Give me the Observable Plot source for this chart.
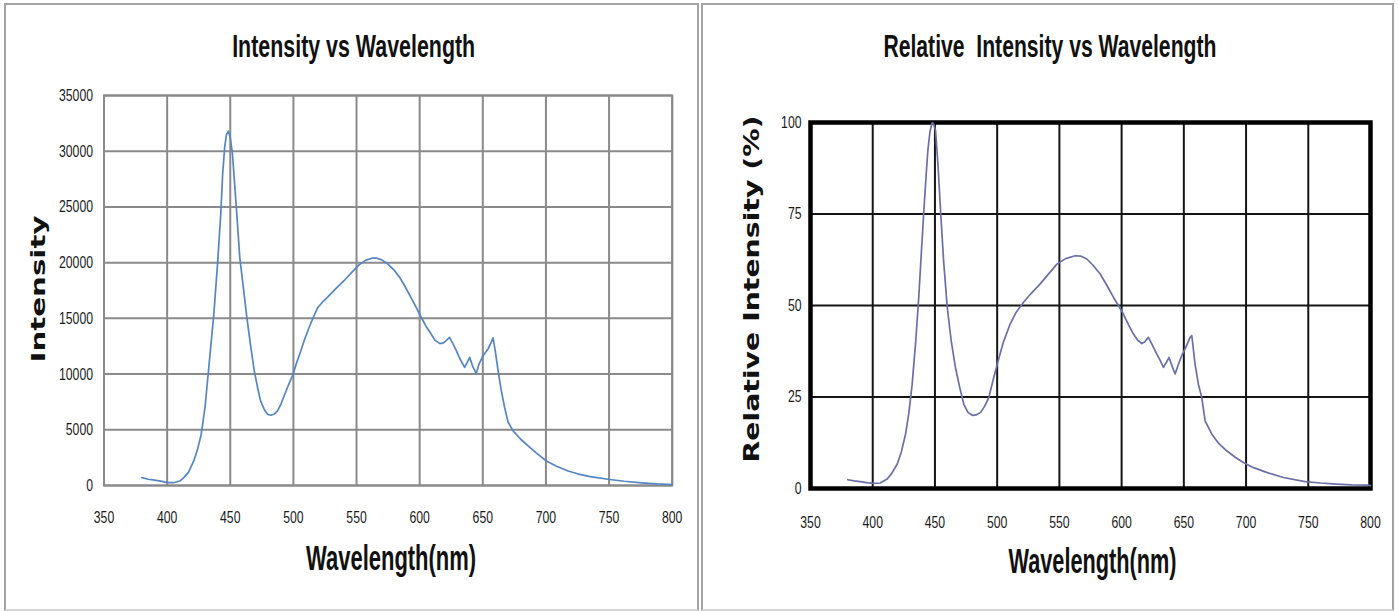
<!DOCTYPE html>
<html>
<head>
<meta charset="utf-8">
<script src="https://cdn.jsdelivr.net/npm/d3@7"></script>
<script src="https://cdn.jsdelivr.net/npm/@observablehq/plot@0.6"></script>
<style>
  html, body { margin: 0; padding: 0; background: #fff; }
  #wrap { position: relative; width: 1399px; height: 611px; overflow: hidden; background: #fff; }
  .panel { position: absolute; box-sizing: border-box; border: 2px solid #a3a3a3; border-bottom-color: #d6d6d6; }
  .title { position: absolute; top: 30px; text-align: center; font-family: "Liberation Sans", Arial, sans-serif; font-size: 32px; font-weight: bold; line-height: 32px; color: #111; white-space: pre; }
  .title span { display: inline-block; transform-origin: center; }
  .chart { position: absolute; top: 70px; }
</style>
</head>
<body>
<div id="wrap">
  <div class="panel" style="left:4px;top:3px;width:695px;height:608px"></div>
  <div class="panel" style="left:701px;top:3px;width:693px;height:608px"></div>
  <div class="title" style="left:4px;width:699px"><span id="t1">Intensity vs Wavelength</span></div>
  <div class="title" style="left:700px;width:699px"><span id="t2">Relative  Intensity vs Wavelength</span></div>
  <div class="chart" id="c1" style="left:0px"></div>
  <div class="chart" id="c2" style="left:700px"></div>
</div>
<script>
// ---- data: left chart (wavelength nm, intensity counts) ----
const wavelengthA = [380,385,390,395,400,405,410,413,417,421,424,427,430,432,435,437,440,442.5,444,445.6,447,448.6,450,451.7,453.5,455.7,457.5,459.7,463,466.3,469,471.6,474,476.8,479.5,482,485,487.4,490,492.7,496,499.8,502.5,505.9,509,512.5,516,519.2,523,527.1,533,540.3,546,552,557,562,566,570,574,580,584,588,592,596,601.2,605,609.1,612,615.7,618,620,623.7,626,629,632,635.6,637.5,639.6,642,644.8,647,650.2,654.1,656.5,658.1,660,662.1,664.5,667.3,670,674,680,685.9,692,700.4,708,717.6,725,735,750.6,762,775.8,788,800];
const intensityA = [700,560,480,390,260,250,400,680,1200,2185,3200,4600,7000,9400,13000,15400,20000,24400,28000,30400,31500,31800,31200,29800,27000,23500,20500,18400,15200,12400,10300,8800,7600,6850,6400,6300,6420,6700,7250,8050,9000,10000,11000,12100,13150,14200,15150,15950,16450,16900,17600,18400,19100,19800,20200,20400,20400,20250,19950,19300,18700,17950,17100,16250,15100,14300,13600,13050,12750,12750,12900,13300,12800,12100,11350,10600,11000,11500,10700,10050,10900,11650,12250,12800,13250,12000,10300,8600,7000,5700,4900,4150,3550,2950,2200,1750,1300,1050,800,540,380,240,140,80];

// ---- data: right chart (wavelength nm, relative intensity %) ----
const wavelengthB = [380,385,390,395,400.9,406,411.6,415,419.7,423,426.4,429,431.7,434.5,437,439,441.1,443,444.3,446,447.8,449,450.5,452.5,454.5,457,459.9,463,466.5,470,473.2,476.5,480,483,486.7,490,493.3,497,501.3,505,510.5,515,521.2,527,534.6,541,548,555,562.7,567,572.1,577,582.8,588,593.5,597.5,601.5,605.5,609.5,613,616.2,618.5,621.5,625,628.3,631,633.6,636,638.1,640.5,643,645.5,648.3,651.5,655,656.4,659,661.7,664.4,667.1,672.4,678,684.4,691,697.8,706,716.5,730,747.3,760,772.7,785,797,800];
const relativeB = [2.4,2.1,1.9,1.6,1.4,1.5,2.6,4.0,6.7,10.0,14.9,20.5,28.5,40,52.3,64,76,86,92.3,97.5,100,99.5,97.8,88,76,62,49.5,40.5,33,27.5,23,20.8,20,20.1,20.8,22.5,24.9,30,35.5,40,45,48,50.9,53.2,55.9,58.5,61.3,62.8,63.6,63.5,62.7,61,58.6,55.6,52.2,50,47.6,44.8,42.2,40.5,39.6,40,41.3,39,36.7,35,33.1,34.5,35.8,33.5,31.3,33.8,36.3,38.5,41.3,41.8,34,28.5,24.9,18.5,14.9,12.3,10.3,8.6,7.1,5.7,4.4,3.0,1.9,1.5,1.2,1.0,0.9,0.8];

// ---- tick labels ----
const wavelengthTicks = [350,400,450,500,550,600,650,700,750,800];
const intensityTicks = [0,5000,10000,15000,20000,25000,30000,35000];
const relativeTicks = [0,25,50,75,100];

const rowsA = wavelengthA.map((w, i) => ({wl: w, v: intensityA[i]}));
const rowsB = wavelengthB.map((w, i) => ({wl: w, v: relativeB[i]}));

const baseStyle = {fontFamily: "'Liberation Sans', Arial, sans-serif", fontSize: "17px", color: "#1a1a1a", background: "transparent", overflow: "visible"};

const left = Plot.plot({
  width: 700, height: 541,
  marginTop: 25, marginBottom: 126, marginLeft: 103.5, marginRight: 28.3,
  x: {domain: [350, 800]},
  y: {domain: [0, 35000]},
  style: baseStyle,
  marks: [
    Plot.gridX(wavelengthTicks, {stroke: "#8a8a8a", strokeOpacity: 1, strokeWidth: 2}),
    Plot.gridY(intensityTicks, {stroke: "#8a8a8a", strokeOpacity: 1, strokeWidth: 2}),
    Plot.frame({stroke: "#8a8a8a", strokeWidth: 2}),
    Plot.axisX(wavelengthTicks, {tickSize: 0, tickPadding: 25, label: null, tickFormat: d3.format("d")}),
    Plot.axisY(intensityTicks, {tickSize: 0, tickPadding: 11, label: null, tickFormat: d3.format("d")}),
    Plot.line(rowsA, {x: "wl", y: "v", stroke: "#5585c2", strokeWidth: 1.7}),
    Plot.text(["Wavelength(nm)"], {text: d => d, frameAnchor: "bottom", lineAnchor: "middle", textAnchor: "middle", dx: 3, dy: 73, fontSize: 35, fontWeight: "bold", fill: "#111"}),
    Plot.text(["Intensity"], {text: d => d, frameAnchor: "left", lineAnchor: "middle", textAnchor: "middle", rotate: -90, dx: -65, dy: -1.5, fontSize: 20, fontWeight: "bold", fontFamily: "'DejaVu Sans', sans-serif", fill: "#111"})
  ]
});

const right = Plot.plot({
  width: 699, height: 541,
  marginTop: 52, marginBottom: 123, marginLeft: 110, marginRight: 29,
  x: {domain: [350, 800]},
  y: {domain: [0, 100]},
  style: baseStyle,
  marks: [
    Plot.gridX(wavelengthTicks, {stroke: "#151515", strokeOpacity: 1, strokeWidth: 2}),
    Plot.gridY(relativeTicks, {stroke: "#151515", strokeOpacity: 1, strokeWidth: 2}),
    Plot.frame({stroke: "#000", strokeWidth: 4.5}),
    Plot.axisX(wavelengthTicks, {tickSize: 0, tickPadding: 27, label: null, tickFormat: d3.format("d")}),
    Plot.axisY(relativeTicks, {tickSize: 0, tickPadding: 9, label: null, tickFormat: d3.format("d")}),
    Plot.line(rowsB, {x: "wl", y: "v", stroke: "#6a6fa8", strokeWidth: 1.7}),
    Plot.text(["Wavelength(nm)"], {text: d => d, frameAnchor: "bottom", lineAnchor: "middle", textAnchor: "middle", dx: 2, dy: 73, fontSize: 35, fontWeight: "bold", fill: "#111"}),
    Plot.text(["Relative Intensity (%)"], {text: d => d, frameAnchor: "left", lineAnchor: "middle", textAnchor: "middle", rotate: -90, dx: -59, dy: -16.5, fontSize: 22, fontWeight: "bold", fontFamily: "'DejaVu Sans', sans-serif", fill: "#111"})
  ]
});

document.getElementById("c1").appendChild(left);
document.getElementById("c2").appendChild(right);

// condensed text look of the original (stretched Calibri-like glyphs)
function fit(svg, factor, overrides) {
  svg.querySelectorAll("text").forEach(t => {
    const s = t.textContent;
    const len = t.getComputedTextLength();
    const target = overrides[s] != null ? overrides[s] : len * factor;
    t.setAttribute("textLength", target);
    t.setAttribute("lengthAdjust", "spacingAndGlyphs");
  });
}
fit(left, 0.72, {"Wavelength(nm)": 170, "Intensity": 147});
fit(right, 0.72, {"Wavelength(nm)": 168, "Relative Intensity (%)": 347});

function fitTitle(id, target) {
  const el = document.getElementById(id);
  const w = el.getBoundingClientRect().width;
  el.style.transform = `scaleX(${target / w})`;
}
fitTitle("t1", 243);
fitTitle("t2", 333);
</script>
</body>
</html>
